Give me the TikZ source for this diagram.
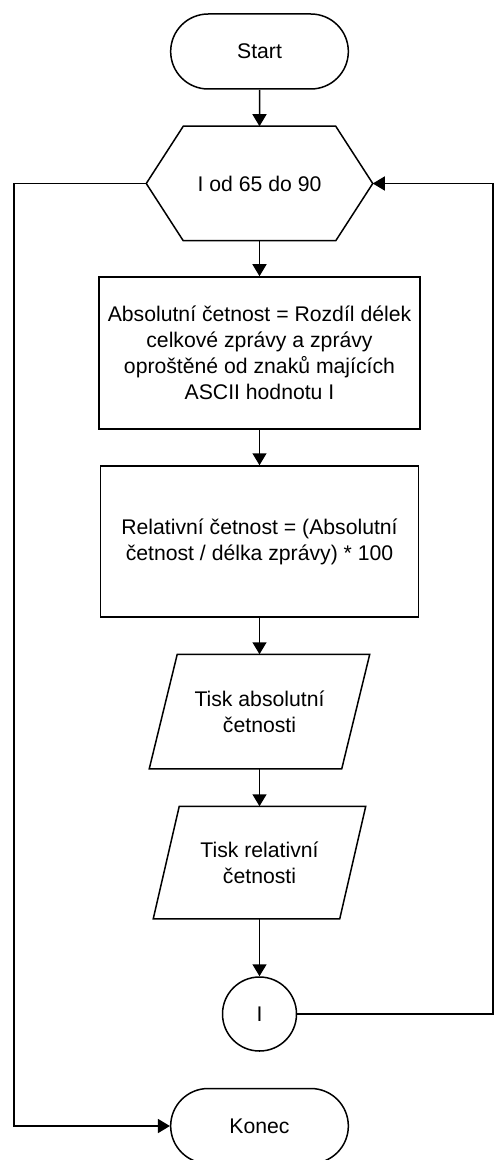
\documentclass[tikz,border=0pt]{standalone}
\usepackage{fontspec}
\setmainfont{Liberation Sans}
\usetikzlibrary{shapes.misc,arrows.meta}
\begin{document}
\begin{tikzpicture}[x=0.5pt,y=-0.5pt,
		every node/.style={font=\fontsize{10.6}{13}\selectfont, align=center, line width=0.75pt},
		term/.style={draw, rounded rectangle, minimum width=95.5pt, minimum height=37.5pt},
		proc/.style={draw, rectangle, inner sep=0pt},
		body/.style={inner sep=0pt},
		conn/.style={draw, circle, minimum size=37pt, inner sep=0pt},
		line/.style={line width=0.75pt},
		flow/.style={line, -{Triangle[length=6pt,width=7pt]}}]
		\useasboundingbox (0,0) rectangle (494,1160);
		\node[term] (start) at (259.5,51.5) {Start};
		\node[body, minimum width=112.5pt, minimum height=56.5pt] (loop) at (259.5,183.5) {I od 65 do 90};
		\draw[line] (loop.west) -- ([xshift=18.5pt]loop.north west) -- ([xshift=-18.5pt]loop.north east)
			-- (loop.east) -- ([xshift=-18.5pt]loop.south east) -- ([xshift=18.5pt]loop.south west) -- cycle;
		\node[proc, minimum width=160.5pt, minimum height=76pt] (abs) at (259.5,353)
			{Absolutní četnost = Rozdíl délek\\celkové zprávy a zprávy\\oproštěné od znaků majících\\ASCII hodnotu I};
		\node[proc, minimum width=159pt, minimum height=75.5pt] (rel) at (259.5,541.5)
			{Relativní četnost = (Absolutní\\četnost / délka zprávy) * 100};
		\node[body, minimum width=95.5pt, minimum height=56.5pt] (tabs) at (259.5,711.5) {Tisk absolutní\\četnosti};
		\draw[line] ([xshift=7pt]tabs.north west) -- ([xshift=7pt]tabs.north east)
			-- ([xshift=-7pt]tabs.south east) -- ([xshift=-7pt]tabs.south west) -- cycle;
		\node[body, minimum width=92.5pt, minimum height=55.5pt] (trel) at (259.5,862.5) {Tisk relativní\\četnosti};
		\draw[line] ([xshift=6.5pt]trel.north west) -- ([xshift=6.5pt]trel.north east)
			-- ([xshift=-6.5pt]trel.south east) -- ([xshift=-6.5pt]trel.south west) -- cycle;
		\node[conn] (next) at (259.5,1014) {I};
		\node[term] (konec) at (259.5,1126) {Konec};
		\coordinate (rgt) at (493,0);
		\coordinate (lft) at (14,0);

		\draw[flow] (start) -- (loop);
		\draw[flow] (loop) -- (abs);
		\draw[flow] (abs) -- (rel);
		\draw[flow] (rel) -- (tabs);
		\draw[flow] (tabs) -- (trel);
		\draw[flow] (trel) -- (next);
		\draw[flow] (next.east) -- (next.east -| rgt) -- (rgt |- loop.east) -- (loop.east);
		\draw[flow] (loop.west) -- (loop.west -| lft) -- (lft |- konec.west) -- (konec.west);
\end{tikzpicture}
\end{document}
